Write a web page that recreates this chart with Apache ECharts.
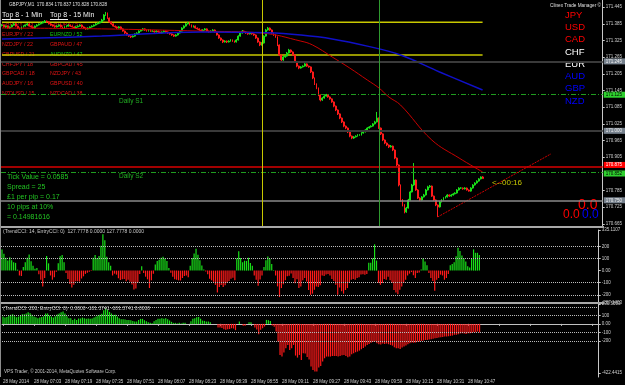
<!DOCTYPE html>
<html>
<head>
<meta charset="utf-8">
<script src="https://cdn.jsdelivr.net/npm/echarts@6/dist/echarts.min.js"></script>
<style>
  html, body { margin: 0; background: #000; }
  #chart { width: 625px; height: 385px; }
</style>
</head>
<body>
<div id="chart"></div>
<script>
// GBPJPY M1, prices kept as thousandths above 170.000
const BASE = 170
const SLOTS = 308 // bars + empty shift area on the right

const tickLabels = ['28 May 2014', '28 May 07:03', '28 May 07:19', '28 May 07:35', '28 May 07:51', '28 May 08:07',
  '28 May 08:23', '28 May 08:39', '28 May 08:55', '28 May 09:11', '28 May 09:27', '28 May 09:43',
  '28 May 09:59', '28 May 10:15', '28 May 10:31', '28 May 10:47']

// [open, close, low, high]
const candlePts = [
  [1379,1381,1376,1384],[1381,1374,1372,1383],[1374,1377,1371,1379],[1377,1370,1368,1379],[1370,1374,1367,1376],
  [1374,1381,1372,1383],[1381,1385,1379,1388],[1385,1377,1375,1387],[1377,1370,1367,1379],[1370,1367,1364,1372],
  [1367,1374,1365,1376],[1374,1377,1372,1380],[1377,1381,1375,1383],[1381,1385,1379,1388],[1385,1377,1375,1387],
  [1377,1374,1371,1379],[1374,1370,1368,1376],[1370,1377,1368,1379],[1377,1381,1375,1384],[1381,1385,1379,1387],
  [1385,1388,1383,1391],[1388,1392,1386,1395],[1392,1395,1389,1399],[1395,1392,1389,1397],[1392,1385,1383,1394],
  [1385,1381,1378,1387],[1381,1377,1375,1383],[1377,1374,1371,1379],[1374,1377,1372,1380],[1377,1381,1375,1383],
  [1381,1374,1372,1383],[1374,1370,1367,1376],[1370,1374,1368,1377],[1374,1377,1372,1380],[1377,1381,1375,1384],
  [1381,1377,1374,1383],[1377,1374,1372,1379],[1374,1370,1367,1376],[1370,1374,1368,1377],[1374,1377,1372,1380],
  [1377,1381,1375,1383],[1381,1374,1371,1383],[1374,1370,1368,1376],[1370,1367,1364,1372],[1367,1370,1365,1373],
  [1370,1374,1368,1376],[1374,1377,1372,1380],[1377,1381,1375,1383],[1381,1385,1379,1388],[1385,1388,1383,1391],
  [1388,1392,1386,1395],[1392,1399,1390,1403],[1399,1417,1397,1420],[1417,1424,1414,1428],[1424,1406,1403,1426],
  [1406,1392,1389,1408],[1392,1385,1382,1394],[1385,1377,1375,1387],[1377,1374,1371,1379],[1374,1370,1367,1376],
  [1370,1374,1368,1377],[1374,1367,1365,1376],[1367,1359,1357,1369],[1359,1352,1349,1361],[1352,1345,1343,1354],
  [1345,1341,1338,1347],[1341,1338,1334,1343],[1338,1341,1336,1344],[1341,1349,1339,1351],[1349,1352,1347,1355],
  [1352,1359,1350,1362],[1359,1363,1357,1366],[1363,1367,1361,1370],[1367,1363,1360,1369],[1363,1359,1357,1365],
  [1359,1363,1357,1366],[1363,1359,1356,1365],[1359,1359,1356,1362],[1359,1356,1353,1361],[1356,1359,1354,1362],
  [1359,1356,1353,1361],[1356,1352,1350,1358],[1352,1356,1350,1358],[1356,1359,1354,1362],[1359,1356,1353,1361],
  [1356,1352,1349,1358],[1352,1349,1346,1354],[1349,1345,1342,1351],[1345,1341,1338,1347],[1341,1345,1339,1348],
  [1345,1352,1343,1355],[1352,1359,1350,1362],[1359,1370,1357,1373],[1370,1377,1368,1380],[1377,1385,1375,1388],
  [1385,1388,1383,1392],[1388,1381,1379,1390],[1381,1374,1372,1383],[1374,1377,1372,1380],[1377,1370,1368,1379],
  [1370,1367,1364,1372],[1367,1363,1360,1369],[1363,1359,1357,1365],[1359,1363,1357,1366],[1363,1367,1361,1370],
  [1367,1359,1357,1369],[1359,1356,1353,1361],[1356,1359,1354,1362],[1359,1363,1357,1366],[1363,1356,1353,1365],
  [1356,1345,1343,1358],[1345,1334,1331,1347],[1334,1327,1324,1336],[1327,1320,1316,1329],[1320,1323,1318,1326],
  [1323,1320,1316,1325],[1320,1323,1318,1326],[1323,1327,1321,1330],[1327,1323,1320,1329],[1323,1320,1317,1325],
  [1320,1327,1318,1330],[1327,1341,1325,1344],[1341,1352,1339,1356],[1352,1359,1350,1363],[1359,1356,1353,1361],
  [1356,1352,1349,1358],[1352,1349,1346,1354],[1349,1352,1347,1355],[1352,1349,1346,1354],[1349,1345,1342,1351],
  [1345,1334,1331,1347],[1334,1320,1317,1336],[1320,1309,1305,1322],[1309,1316,1307,1319],[1316,1341,1314,1344],
  [1341,1363,1339,1367],[1363,1370,1361,1374],[1370,1363,1360,1372],[1363,1352,1349,1365],[1352,1345,1342,1354],
  [1345,1338,1335,1347],[1338,1309,1305,1340],[1309,1273,1269,1311],[1273,1255,1250,1275],[1255,1266,1252,1269],
  [1266,1269,1263,1272],[1269,1280,1267,1284],[1280,1291,1278,1295],[1291,1284,1281,1293],[1284,1273,1270,1286],
  [1273,1248,1245,1275],[1248,1233,1229,1250],[1233,1226,1222,1235],[1226,1230,1224,1233],[1230,1233,1228,1236],
  [1233,1241,1231,1244],[1241,1233,1230,1243],[1233,1230,1227,1235],[1230,1212,1208,1232],[1212,1190,1186,1214],
  [1190,1169,1165,1192],[1169,1154,1150,1171],[1154,1129,1125,1156],[1129,1111,1106,1131],[1111,1118,1108,1121],
  [1118,1125,1116,1128],[1125,1129,1123,1133],[1129,1122,1119,1131],[1122,1115,1112,1124],[1115,1104,1101,1117],
  [1104,1089,1085,1106],[1089,1075,1071,1091],[1075,1061,1057,1077],[1061,1046,1042,1063],[1046,1032,1028,1048],
  [1032,1017,1013,1034],[1017,1010,1006,1019],[1010,996,992,1012],[996,981,977,998],[981,974,970,983],
  [974,978,971,981],[978,981,976,984],[981,985,979,988],[985,985,982,988],[985,992,983,995],
  [992,996,990,999],[996,1003,994,1006],[1003,1010,1001,1013],[1010,1014,1008,1017],[1014,1017,1012,1020],
  [1017,1025,1015,1028],[1025,1032,1023,1036],[1032,1046,1030,1068],[1046,1010,1007,1048],[1010,989,985,1012],
  [989,967,963,991],[967,956,952,969],[956,949,945,958],[949,942,938,951],[942,945,940,949],
  [945,931,927,947],[931,902,898,933],[902,877,872,904],[877,805,800,879],[805,751,745,807],
  [751,733,728,754],[733,708,703,736],[708,722,705,726],[722,751,720,755],[751,780,749,784],
  [780,805,778,809],[805,823,802,884],[823,787,784,825],[787,758,755,790],[758,751,747,761],
  [751,762,749,765],[762,769,760,773],[769,787,767,791],[787,798,785,802],[798,801,795,805],
  [801,765,762,803],[765,751,748,767],[751,733,729,753],[733,726,690,735],[726,744,724,747],
  [744,751,742,754],[751,758,749,761],[758,762,756,765],[762,769,760,772],[769,765,762,771],
  [765,769,763,772],[769,773,767,776],[773,776,771,779],[776,787,774,790],[787,794,785,797],
  [794,794,791,797],[794,791,788,796],[791,794,789,797],[794,787,785,796],[787,783,781,789],
  [783,794,781,797],[794,805,792,808],[805,812,803,815],[812,819,810,822],[819,827,817,830],
  [827,834,825,836],[834,828,828,837]
]

// moving averages, read at a few bars
const redMaIdx = [0, 51, 102, 133, 153, 159, 169, 178, 187, 193, 198, 204, 220, 234, 246]
const redMaPts = [1370, 1367, 1359, 1352, 1323, 1309, 1266, 1226, 1183, 1154, 1122, 1093, 967, 902, 852]
const blueMaIdx = [0, 51, 102, 136, 153, 169, 187, 204, 224, 246]
const blueMaPts = [1331, 1341, 1356, 1353, 1345, 1331, 1305, 1273, 1212, 1147]

const trendIdx = [223, 281]
const trendPts = [690, 917]
const yellowPts = [1391, 1273]
const yellowIdx = [0, 246]

const levelPrices = [171.245, 171.125, 171.000, 170.868, 170.852, 170.848, 170.750]
const levelTexts = ['171.245', '171.125', '171.000', '170.875', '170.852', '170.848', '170.750']
const vLineIdx = [133, 193]

const priceTicks = [171.445, 171.385, 171.325, 171.265, 171.205, 171.145, 171.085, 171.025,
  170.965, 170.905, 170.785, 170.725, 170.665]

const cci14 = [
  175,139,106,83,111,85,70,64,8,-40,
  -45,30,70,106,133,78,40,15,22,-30,
  -75,-130,-60,120,60,-40,-75,-55,-10,60,
  119,128,70,-20,-70,-110,-139,-117,-87,-88,
  -90,-65,-47,-27,-18,-9,-4,106,128,105,
  120,205,300,250,115,70,40,-40,-25,-33,
  -63,-78,-72,-70,-87,-76,-92,-115,-155,-147,
  -97,-28,36,-20,-50,-72,-144,-80,-25,50,
  80,90,106,115,100,80,22,-18,-50,-72,
  -75,-80,-81,-61,-45,-40,-55,40,105,142,
  180,130,85,43,10,-8,-30,-68,-80,-92,
  -117,-180,-135,-118,-135,-120,-102,-85,-67,-58,
  -80,100,160,105,70,82,80,106,62,40,
  -40,-75,-125,-73,-40,30,85,117,95,55,
  5,-40,-130,-218,-144,-112,-79,-47,-43,-23,
  -61,-105,-72,
  -144,-131,-80,-61,-89,-160,-200,-190,-158,-131,
  -135,-120,-40,-45,-33,-28,-40,-70,-85,-117,
  -200,-140,-170,-190,-160,-144,-103,-75,-70,-75,
  -61,-55,-33,-30,-35,-28,64,64,100,217,
  83,-100,-117,-103,-70,-75,-50,-80,-103,-160,
  -180,-195,-158,-131,-103,-75,-40,-25,-12,-39,
  -61,-20,-15,10,100,75,44,-20,-60,-85,
  -167,-75,-61,-33,-40,-75,-61,-28,44,55,
  70,119,189,161,125,100,75,36,25,100,
  175,147,147,128
]

const cci200 = [
  86,74,82,98,106,114,90,78,86,98,
  114,114,122,137,125,106,86,78,67,74,
  82,90,122,122,98,86,74,90,110,122,
  137,145,122,90,67,67,47,59,47,63,
  63,74,67,59,63,59,63,74,86,98,
  106,118,161,184,165,141,122,106,106,86,
  67,55,55,51,47,47,43,35,27,27,
  47,59,59,43,31,20,12,8,31,47,
  59,59,67,59,67,55,39,24,12,12,
  4,12,4,12,12,0,0,31,59,67,
  78,82,59,39,35,27,27,20,0,0,
  0,-43,-43,-47,-63,-70,-63,-59,-51,-55,
  -74,0,27,0,-23,-23,0,20,20,0,
  -43,-67,-121,-70,-51,-31,47,43,35,-20,
  -35,-90,-208,-365,-384,-337,-286,-247,-306,-286,
  -247,-372,-396,
  -365,-423,-345,-349,-388,-419,-502,-541,-560,-560,
  -513,-494,-443,-404,-384,-384,-384,-376,-376,-376,
  -384,-376,-368,-365,-376,-392,-384,-357,-345,-333,
  -325,-314,-298,-282,-267,-247,-235,-223,-212,-208,
  -227,-239,-243,-231,-235,-231,-239,-247,-255,-274,
  -286,-286,-294,-278,-267,-255,-239,-227,-220,-223,
  -220,-208,-208,-200,-196,-188,-188,-184,-180,-176,
  -169,-165,-161,-157,-153,-149,-149,-145,-141,-137,
  -129,-129,-122,-114,-110,-114,-118,-110,-110,-106,
  -98,-98,-90,-101
]

const cciLevels = [200, 100, -100, -200]
const cci14TickVals = [335.1107, 200, 100, 0, -100, -200, -267.1403]
const cci14TickText = ['335.1107', '200', '100', '0.00', '-100', '-200', '-267.1403']
const cci200TickVals = [233.5503, 100, 0, -100, -200, -576]
const cci200TickText = ['233.5503', '100', '0.00', '-100', '-200', '-422.4415']

const top1Min = ['GBPJPY / 23', 'EURJPY / 22', 'NZDJPY / 22', 'GBPUSD / 21', 'CHFJPY / 18', 'GBPCAD / 18', 'AUDJPY / 16', 'NZDUSD / 15']
const top15Min = ['GBPJPY / 57', 'EURNZD / 52', 'GBPAUD / 47', 'AUDNZD / 47', 'GBPCAD / 45', 'NZDJPY / 43', 'GBPUSD / 40', 'NZDCAD / 38']
const top15Up = [false, true, false, true, false, false, false, false]
const currencies = ['JPY', 'USD', 'CAD', 'CHF', 'EUR', 'AUD', 'GBP', 'NZD']
const infoLines = ['Tick Value = 0.0585', 'Spread = 25', '£1 per pip = 0.17', '10 pips at 10%', '= 0.14981616']

const toPrice = p => +(BASE + p / 1000).toFixed(3)
const slots = Array.from({ length: SLOTS }, (_, i) => i)

const FONT = '"Liberation Sans", Arial, sans-serif'
const GREEN = '#19e019'
const RED = '#ff1a1a'

// histogram bars coloured by sign
const signBars = arr => arr.map(v => ({ value: v, itemStyle: { color: v >= 0 ? GREEN : RED } }))

function boxLabel(text, bg, fg, dy) {
  return {
    show: true, position: 'end', distance: 1, formatter: text,
    fontSize: 4.5, fontFamily: FONT, color: fg, backgroundColor: bg,
    padding: [1, 3, 0, 2], offset: [0, dy || 0]
  }
}

const levelStyles = [
  { line: { color: '#3a3a3a', width: 2, type: 'solid' }, bg: '#77828e', fg: '#f0f0f0' },
  { line: { color: '#1f9c1f', width: 1, type: [5, 2, 1, 2] }, bg: '#2fd12f', fg: '#000' },
  { line: { color: '#3a3a3a', width: 2, type: 'solid' }, bg: '#77828e', fg: '#f0f0f0' },
  { line: { color: '#d80000', width: 1.5, type: 'solid' }, bg: '#ff0000', fg: '#fff', dy: -2 },
  { line: { color: '#1f9c1f', width: 1, type: [5, 2, 1, 2] }, bg: '#2fd12f', fg: '#000', dy: 1 },
  { line: { color: '#000', width: 0, opacity: 0 }, bg: '#ffffff', fg: '#000', dy: 6 },
  { line: { color: '#8a8a8a', width: 1.5, type: 'solid' }, bg: '#77828e', fg: '#f0f0f0' }
]

const markData = levelPrices.map((p, i) => ({
  yAxis: p,
  lineStyle: levelStyles[i].line,
  label: boxLabel(levelTexts[i], levelStyles[i].bg, levelStyles[i].fg, levelStyles[i].dy)
})).concat(vLineIdx.map((k, i) => ({
  xAxis: k,
  lineStyle: { color: i === 0 ? '#c8c800' : '#2f9a2f', width: 1, type: 'solid' },
  label: { show: false }
})))

function text(t, x, y, size, fill, z) {
  return {
    type: 'text', x: x, y: y, z: z == null ? 1 : z, silent: true,
    style: { text: t, fill: fill, font: size + 'px ' + FONT, verticalAlign: 'middle' }
  }
}

const graphics = [
  { type: 'rect', shape: { x: 0, y: 226, width: 604, height: 2 }, style: { fill: '#a8a8a8' }, z: 10, silent: true },
  { type: 'rect', shape: { x: 0, y: 302, width: 604, height: 2 }, style: { fill: '#a8a8a8' }, z: 10, silent: true },
  { type: 'line', shape: { x1: 0.5, y1: 0, x2: 0.5, y2: 377 }, style: { stroke: '#8c8c8c', lineWidth: 1 }, z: 10, silent: true },
  text('GBPJPY,M1  170.834 170.837 170.828 170.828', 9, 5, 4.6, '#e0e0e0'),
  text('Top 8 - 1 Min', 2, 15.5, 7, '#f0f0f0'),
  text('Top 8 - 15 Min', 50, 15.5, 7, '#f0f0f0'),
  { type: 'line', shape: { x1: 2, y1: 19.5, x2: 20, y2: 19.5 }, style: { stroke: '#f0f0f0', lineWidth: 1 }, z: 1, silent: true },
  { type: 'line', shape: { x1: 50, y1: 19.5, x2: 68, y2: 19.5 }, style: { stroke: '#f0f0f0', lineWidth: 1 }, z: 1, silent: true },
  text('Daily S1', 119, 101, 6.5, '#22b022'),
  text('Daily S2', 119, 176, 6.5, '#22b022'),
  text('<--00:16', 492, 183, 8, '#c8c800', 5),
  text('Clinex Trade Manager \u00a9', 550, 5.5, 4.7, '#e0e0e0', 5),
  text('0.0', 578, 205.5, 14, '#ff0000', 5),
  text('0.0', 563, 214.5, 12, '#ff0000', 5),
  text('0.0', 582, 214.5, 12, '#0000ff', 5),
  text('(TrendCCI: 14, EntryCCI: 0)  127.7778 0.0000 127.7778 0.0000', 3, 232, 5, '#c8c8c8', 5),
  text('(TrendCCI: 200, EntryCCI: 0)  0.0000 -101.3741 -101.3741 0.0000', 3, 309, 5, '#c8c8c8', 5),
  text('VPS Trader, \u00a9 2001-2014, MetaQuotes Software Corp.', 4, 372, 4.6, '#c8c8c8', 5)
]
top1Min.forEach((t, i) => graphics.push(text(t, 2, 25 + i * 9.8, 5.3, '#e01414')))
top15Min.forEach((t, i) => graphics.push(text(t, 50, 25 + i * 9.8, 5.3, top15Up[i] ? '#14c814' : '#e01414')))
currencies.forEach((t, i) => graphics.push(text(t, 565, 15 + i * 12.3, 9.5, i < 3 ? '#ff0000' : i < 5 ? '#ffffff' : '#0000ff', 5)))
infoLines.forEach((t, i) => graphics.push(text(t, 7, 177.3 + i * 10, 7, '#22c322', 5)))

const chart = echarts.init(document.getElementById('chart'), null, { renderer: 'canvas' })

chart.setOption({
  backgroundColor: '#000',
  animation: false,
  textStyle: { fontFamily: FONT },
  grid: [
    { left: 1, right: 21, top: 0, height: 226 },
    { left: 1, right: 21, top: 230, height: 73 },
    { left: 1, right: 21, top: 304, height: 73 }
  ],
  xAxis: [0, 1, 2].map(i => ({
    type: 'category',
    gridIndex: i,
    data: slots,
    boundaryGap: true,
    axisLine: { show: i === 2, lineStyle: { color: '#c0c0c0' } },
    axisTick: { show: i === 2, alignWithLabel: true, interval: idx => idx % 16 === 0, length: 2, lineStyle: { color: '#c0c0c0' } },
    axisLabel: {
      show: i === 2,
      interval: idx => idx % 16 === 0,
      formatter: (v, idx) => tickLabels[idx / 16] || '',
      align: 'left', fontSize: 4.5, color: '#d0d0d0', margin: 2
    },
    splitLine: { show: false }
  })),
  yAxis: [
    {
      type: 'value', gridIndex: 0, position: 'right', min: 170.6574, max: 171.471,
      axisLine: { show: true, lineStyle: { color: '#c8c8c8' } },
      axisTick: { show: true, customValues: priceTicks, length: 2, lineStyle: { color: '#c8c8c8' } },
      axisLabel: { customValues: priceTicks, formatter: v => v.toFixed(3), fontSize: 4.5, color: '#d0d0d0', margin: 3 },
      splitLine: { show: false }
    },
    {
      type: 'value', gridIndex: 1, position: 'right', min: -267.1403, max: 335.1107,
      axisLine: { show: true, lineStyle: { color: '#c8c8c8' } },
      axisTick: { show: true, customValues: cci14TickVals, length: 2, lineStyle: { color: '#c8c8c8' } },
      axisLabel: { customValues: cci14TickVals, formatter: v => cci14TickText[cci14TickVals.indexOf(v)], fontSize: 4.5, color: '#d0d0d0', margin: 3 },
      splitLine: { show: false }
    },
    {
      type: 'value', gridIndex: 2, position: 'right', min: -624, max: 233.5503,
      axisLine: { show: true, lineStyle: { color: '#c8c8c8' } },
      axisTick: { show: true, customValues: cci200TickVals, length: 2, lineStyle: { color: '#c8c8c8' } },
      axisLabel: { customValues: cci200TickVals, formatter: v => cci200TickText[cci200TickVals.indexOf(v)], fontSize: 4.5, color: '#d0d0d0', margin: 3 },
      splitLine: { show: false }
    }
  ],
  graphic: { elements: graphics },
  series: [
    {
      type: 'candlestick',
      xAxisIndex: 0, yAxisIndex: 0,
      data: candlePts.map(c => c.map(toPrice)),
      barWidth: '70%',
      large: false,
      z: 3,
      itemStyle: { color: GREEN, color0: RED, borderColor: GREEN, borderColor0: RED, borderWidth: 1 },
      markLine: { silent: true, symbol: ['none', 'none'], animation: false, data: markData }
    },
    {
      type: 'line', xAxisIndex: 0, yAxisIndex: 0, showSymbol: false, smooth: 0.4, z: 4,
      data: redMaIdx.map((k, i) => [k, toPrice(redMaPts[i])]),
      lineStyle: { color: '#c80000', width: 1 }
    },
    {
      type: 'line', xAxisIndex: 0, yAxisIndex: 0, showSymbol: false, smooth: 0.4, z: 4,
      data: blueMaIdx.map((k, i) => [k, toPrice(blueMaPts[i])]),
      lineStyle: { color: '#1010c8', width: 1.5 }
    },
    ...yellowPts.map(p => ({
      type: 'line', xAxisIndex: 0, yAxisIndex: 0, showSymbol: false, z: 2,
      data: yellowIdx.map(k => [k, toPrice(p)]),
      lineStyle: { color: '#c8c800', width: 1.5 }
    })),
    {
      type: 'line', xAxisIndex: 0, yAxisIndex: 0, showSymbol: false, z: 4,
      data: trendIdx.map((k, i) => [k, toPrice(trendPts[i])]),
      lineStyle: { color: '#d00000', width: 1, type: [2, 1] }
    },
    {
      type: 'bar', xAxisIndex: 1, yAxisIndex: 1, barWidth: 1.2, z: 3,
      large: false, progressive: 0,
      data: signBars(cci14),
      itemStyle: { borderWidth: 0 },
      markLine: {
        silent: true, symbol: ['none', 'none'], label: { show: false },
        lineStyle: { type: 'dotted', color: '#bdbdbd', width: 1 },
        data: cciLevels.map(v => ({ yAxis: v }))
      }
    },
    {
      type: 'bar', xAxisIndex: 2, yAxisIndex: 2, barWidth: 1.2, z: 3,
      large: false, progressive: 0,
      data: signBars(cci200),
      itemStyle: { borderWidth: 0 },
      markLine: {
        silent: true, symbol: ['none', 'none'], label: { show: false },
        lineStyle: { type: 'dotted', color: '#bdbdbd', width: 1 },
        data: cciLevels.map(v => ({ yAxis: v }))
      }
    }
  ]
})
</script>
</body>
</html>
